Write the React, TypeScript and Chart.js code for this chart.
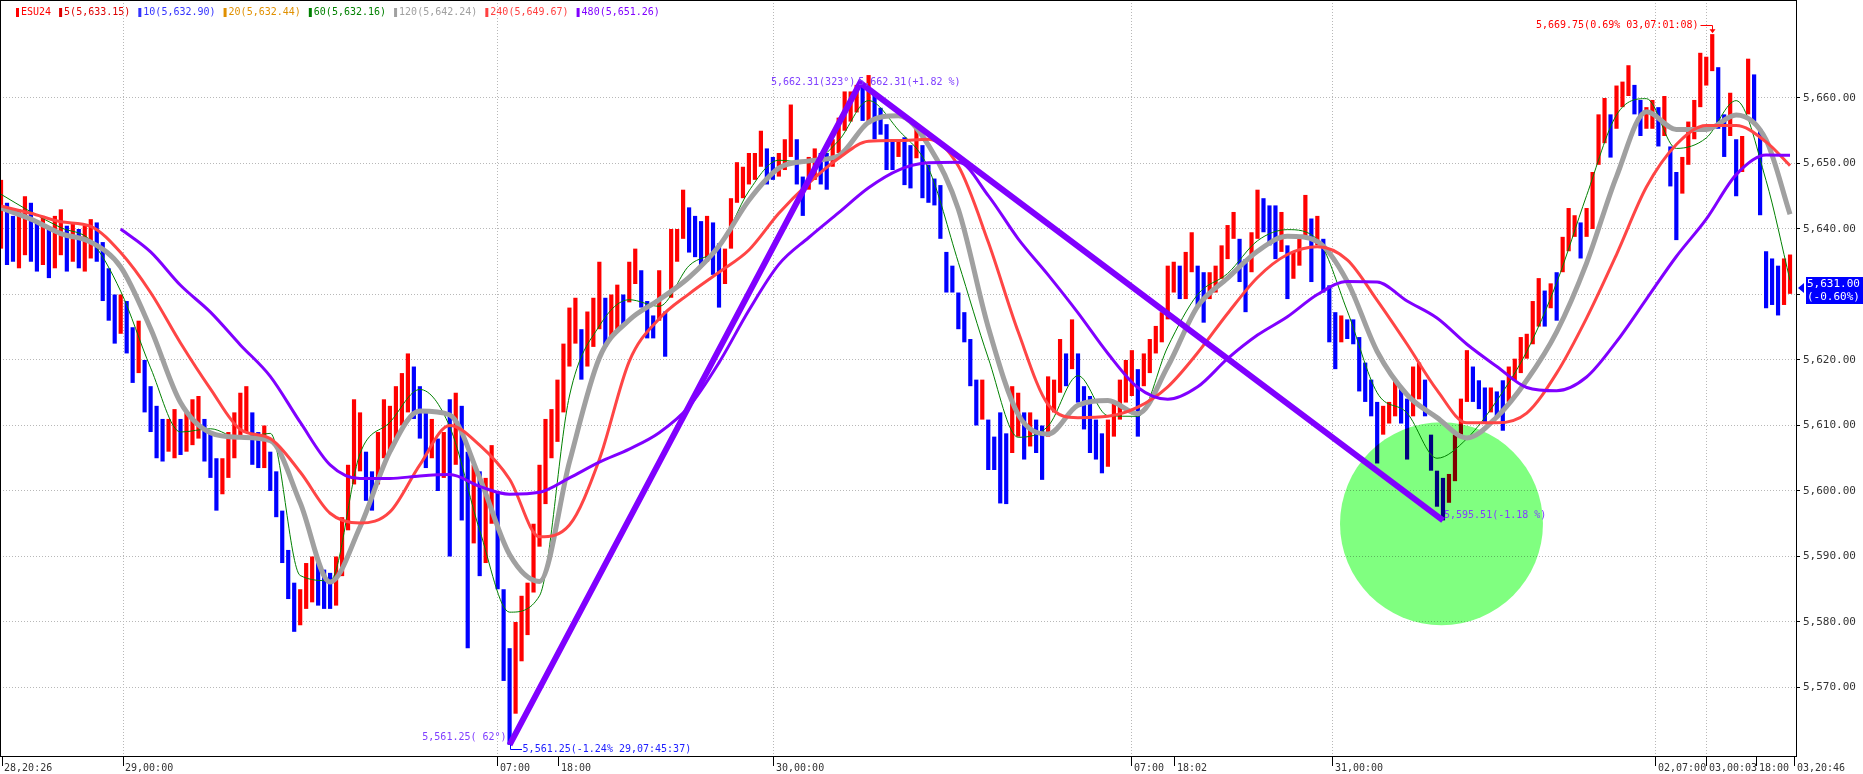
import React, { useEffect, useRef } from 'react';
import { Chart, registerables } from 'chart.js';
Chart.register(...registerables);

// ---------- data ----------
const highs = [
  5647.5, 5644, 5642, 5643, 5645, 5644, 5641, 5642, 5640, 5642,
  5643, 5640.5, 5641, 5640, 5640.5, 5641.5, 5641, 5638, 5634, 5630,
  5630, 5629, 5625, 5626, 5620, 5616, 5613, 5611, 5611, 5612.5,
  5611, 5612, 5614, 5614.5, 5611, 5609, 5605, 5605, 5609, 5612,
  5615, 5616, 5612, 5609, 5610, 5606, 5603, 5597, 5591, 5586,
  5585, 5589, 5590, 5589, 5588, 5587.5, 5590, 5596, 5604, 5614,
  5612, 5606, 5603, 5609, 5614, 5613, 5616, 5618, 5621, 5619,
  5616, 5612, 5611, 5608, 5609, 5614, 5615, 5613, 5606, 5604,
  5603, 5602, 5607, 5600, 5585, 5576, 5580, 5584, 5586, 5595,
  5604, 5611, 5612.5, 5617, 5622.5, 5628, 5629.5, 5624.7, 5627.4, 5629.5,
  5635, 5629.5, 5630, 5631.5, 5630, 5635, 5637, 5633.7, 5629, 5626.8,
  5633.7, 5627.4, 5640, 5640, 5646, 5643.3, 5642, 5641.2, 5642, 5641,
  5637.8, 5637, 5644.7, 5650.2, 5649.5, 5651.6, 5651.6, 5655, 5652.3, 5651,
  5651.6, 5653.7, 5659, 5653.7, 5648, 5651, 5652.3, 5651.6, 5651.6, 5653.7,
  5657, 5661, 5661, 5662, 5662.3, 5663.5, 5660.5, 5658.5, 5656, 5653.7,
  5653.7, 5654, 5652.8, 5655.4, 5652.8, 5649.8, 5647.7, 5646.7, 5636.5, 5634.4,
  5630.3, 5627.3, 5623.2, 5617, 5617, 5610.9, 5608.3, 5612, 5608.8, 5616,
  5615, 5612, 5612, 5610.9, 5610, 5617.5, 5617, 5623.2, 5621, 5626.2,
  5621, 5616, 5614.5, 5610.9, 5608.8, 5610.9, 5613.5, 5617, 5620, 5621.5,
  5618.6, 5621, 5623.2, 5625.2, 5627.3, 5634.4, 5635, 5634.4, 5636.5, 5639.5,
  5634.4, 5633.4, 5633.4, 5634.4, 5637.5, 5640.6, 5642.6, 5638.5, 5635.4, 5639.5,
  5646, 5644.7, 5643.6, 5643.6, 5642.6, 5637.5, 5636.5, 5638.5, 5645.2, 5641.6,
  5642, 5638.5, 5631.4, 5627.3, 5626.8, 5626.2, 5626.2, 5623.5, 5619.6, 5617,
  5613.6, 5613, 5613.6, 5617, 5615.8, 5614.1, 5619, 5619.6, 5617, 5608.6,
  5603.1, 5602, 5602.6, 5608.6, 5614.1, 5621.5, 5619, 5616.9, 5615.8, 5615.8,
  5615.2, 5616.9, 5619, 5620.2, 5623.5, 5624, 5629, 5632.5, 5630.6, 5631.7,
  5633.4, 5638.8, 5643.2, 5642.1, 5641, 5643.2, 5648.7, 5657.5, 5660, 5657.5,
  5661.9, 5662.5, 5665, 5662, 5659.7, 5658.6, 5659.7, 5658.6, 5660.3, 5652.6,
  5648.7, 5651, 5656.4, 5659.7, 5666.9, 5666.3, 5669.75, 5664.7, 5657.5, 5660.8,
  5653.7, 5654.2, 5666, 5663.6, 5655.3, 5636.6, 5635.5, 5634.4, 5635.5, 5636.1,
];

const lows = [
  5637, 5634.5, 5635, 5634, 5636, 5635, 5633.5, 5634.5, 5632.5, 5634,
  5636, 5633.5, 5635, 5634, 5633.5, 5635.5, 5635, 5629, 5626, 5622.5,
  5624, 5621, 5616.5, 5618, 5612, 5609, 5605, 5604.5, 5606, 5605,
  5605.5, 5606, 5607, 5608, 5604.5, 5602, 5597, 5599.5, 5602, 5605,
  5608, 5609, 5604, 5603.5, 5603.5, 5600, 5596, 5589, 5583.5, 5578.5,
  5579.5, 5582, 5583, 5582.5, 5582, 5582, 5582.5, 5587, 5594, 5601,
  5603, 5598.5, 5597, 5601, 5605, 5606, 5608, 5610, 5612, 5611,
  5608, 5603.5, 5605, 5600, 5602, 5590, 5604, 5595.5, 5576, 5592,
  5587, 5589, 5595, 5585, 5571, 5561.25, 5566, 5574, 5578, 5584.5,
  5591.5, 5598, 5605, 5607.5, 5612, 5619, 5622.5, 5617, 5619, 5622,
  5624.7, 5622, 5623.5, 5624.7, 5625.4, 5628.8, 5631.6, 5628, 5623.3, 5623.3,
  5626, 5620.5, 5629.5, 5635, 5638.5, 5636.4, 5635.7, 5634.3, 5635, 5633,
  5628, 5631.6, 5637, 5644, 5644.7, 5646.8, 5647.5, 5649.5, 5646.8, 5647.5,
  5648, 5649, 5651, 5646.8, 5642, 5646, 5647.5, 5646.8, 5646, 5649.5,
  5651.6, 5655, 5656.4, 5657.8, 5656.5, 5656, 5653.7, 5654.4, 5649, 5649,
  5651, 5646.7, 5646.2, 5650.8, 5644.7, 5644, 5643.6, 5638.5, 5630.3, 5630.3,
  5624.7, 5622.7, 5616, 5610, 5610.9, 5603.2, 5603.2, 5598.1, 5598, 5605.8,
  5608.3, 5604.8, 5606.8, 5605.8, 5601.7, 5608.3, 5612, 5615, 5616, 5618.6,
  5613.5, 5609.4, 5605.8, 5604.8, 5602.7, 5603.7, 5608.3, 5610.9, 5613.5, 5614.5,
  5608.3, 5616, 5618, 5621, 5622.7, 5626.2, 5630.3, 5629.3, 5629.3, 5633.4,
  5628.3, 5625.7, 5629.3, 5630.3, 5632.4, 5635.4, 5638.5, 5631.9, 5627.3, 5633.4,
  5638.5, 5639.5, 5637.5, 5635.4, 5636.5, 5629.3, 5632.4, 5634.4, 5638.5, 5631.9,
  5637.5, 5630.3, 5622.7, 5618.6, 5622.7, 5623.2, 5622.4, 5615.2, 5613.6, 5611.4,
  5604.2, 5608.6, 5610.3, 5611.4, 5610.3, 5604.8, 5611.4, 5614, 5611.4, 5603.1,
  5597.6, 5595.51, 5598.2, 5601.5, 5608.6, 5613.6, 5613.6, 5612.5, 5610.3, 5612,
  5611.4, 5609.2, 5613.6, 5616.9, 5618, 5620.2, 5622.4, 5625.1, 5625.1, 5627.9,
  5626, 5633.4, 5636.6, 5638.8, 5635.5, 5638.8, 5640, 5649.8, 5653.1, 5650.9,
  5655.3, 5658.6, 5660.3, 5657.5, 5654.2, 5655.3, 5655.3, 5652.6, 5654.2, 5646.5,
  5638.3, 5645.4, 5649.8, 5653.7, 5658.6, 5661.9, 5664.1, 5655.3, 5651, 5654.2,
  5645, 5648.7, 5657.5, 5656.4, 5642.1, 5627.9, 5628.4, 5626.8, 5628.4, 5630.1,
];

// moving averages, sampled at these bar indices
const maX = [
  0, 5, 10, 15, 20, 25, 30, 35, 40, 45, 50, 55, 60, 65, 70, 75, 80, 85, 90, 95,
  100, 105, 110, 115, 120, 125, 130, 135, 140, 145, 150, 155, 160, 165, 170, 175, 180, 185, 190, 195,
  200, 205, 210, 215, 220, 225, 230, 235, 240, 245, 250, 255, 260, 265, 270, 275, 280, 285, 290, 295, 299,
];
const ma60 = [
  5645.3, 5642.6, 5640.2, 5638.2, 5630.5, 5618.8, 5609, 5609.5, 5608, 5608.8,
  5587.1, 5586.3, 5605.7, 5610.5, 5615.5, 5609.8, 5594, 5581.5, 5584, 5614.5,
  5625.2, 5629.2, 5628.2, 5634.4, 5637.2, 5645.8, 5650.5, 5650.1, 5653.5, 5659.6,
  5655.1, 5649.3, 5634.9, 5620.3, 5608.2, 5609.9, 5617.6, 5611.5, 5611.4, 5622,
  5630, 5633.2, 5638.2, 5639.9, 5638.4, 5627.5, 5615, 5611.9, 5605, 5608,
  5613.8, 5621.3, 5631.8, 5645.1, 5657.4, 5659.9, 5652.3, 5653.9, 5659.6, 5647.4, 5632.16,
];
const ma120 = [
  5643.2, 5641.5, 5639.3, 5638, 5634.2, 5624.8, 5613.5, 5608.9, 5608.2, 5607.7,
  5598.2, 5586.1, 5594.5, 5606, 5612.2, 5611.6, 5602, 5590.3, 5586.2, 5604.4,
  5620.3, 5626.1, 5629.2, 5632.6, 5637.4, 5644.4, 5649.3, 5650.4, 5651.2, 5656.3,
  5657.3, 5652.8, 5643, 5625, 5611.7, 5608.7, 5613.1, 5613.8, 5611.8, 5619,
  5628.2, 5632.5, 5636.6, 5638.9, 5638.1, 5632, 5621.3, 5614.7, 5611.2, 5608.1,
  5611.3, 5616.9, 5624.3, 5634.8, 5648, 5657.9, 5655.2, 5655.2, 5657.4, 5653.6, 5642.24,
];
const ma240 = [
  5643.5, 5642.4, 5641.1, 5640.4, 5636.4, 5630.3, 5622.6, 5615.6, 5609.4, 5608,
  5602.9, 5596.6, 5595.1, 5596.8, 5604, 5610, 5607, 5601.8, 5593, 5594.8,
  5604.8, 5619.8, 5626.3, 5630.1, 5633.4, 5636.8, 5642.4, 5647, 5650.8, 5653.4,
  5653.5, 5653.7, 5649.6, 5638, 5624.3, 5613.2, 5611.2, 5611.4, 5612.8, 5615.9,
  5621.1, 5627.1, 5632.6, 5636.1, 5637.3, 5635.3, 5629.1, 5622.4, 5615.4, 5610.4,
  5610.4, 5611.9, 5618, 5626.4, 5636.1, 5646.4, 5652.9, 5655.8, 5655.8, 5653.3, 5649.67,
];
const ma480 = [
  null, null, null, null, 5640, 5636.5, 5631.4, 5627.3, 5622.3, 5617.5,
  5610.5, 5604, 5601.9, 5601.9, 5602.3, 5602.5, 5600.7, 5599.5, 5599.8, 5602,
  5604.4, 5606.4, 5608.9, 5612.9, 5619.6, 5627.6, 5634.6, 5638.7, 5642.5, 5646.3,
  5649, 5650.1, 5650.2, 5645.1, 5638.5, 5633, 5627.2, 5621, 5615.8, 5614,
  5615.9, 5620.2, 5623.8, 5626.6, 5630, 5632, 5631.9, 5629, 5626.4, 5622.4,
  5619, 5615.8, 5615.3, 5617.4, 5622.8, 5629.3, 5635.8, 5641.5, 5648.3, 5651.3, 5651.26,
];

// trend line (bar index, price)
const trendX = [85, 143.6, 241];
const trendY = [5561.25, 5662.31, 5595.51];

// x axis ticks (bar index) and labels
const xTickPos = [0.17, 20.39, 83.06, 93.25, 129.19, 189.02, 196.21, 222.61, 276.6, 285.12, 293.47, 299.82];
const xTickLabels = ['28,20:26', '29,00:00', '07:00', '18:00', '30,00:00', '07:00', '18:02', '31,00:00', '02,07:00', '03,00:03', '18:00', '03,20:46'];
const xTickMajor = [false, true, true, false, true, true, false, true, true, true, false, false];

const yTicks = [5570, 5580, 5590, 5600, 5610, 5620, 5630, 5640, 5650, 5660];

const legendLabels = ['ESU24', '5(5,633.15)', '10(5,632.90)', '20(5,632.44)', '60(5,632.16)', '120(5,642.24)', '240(5,649.67)', '480(5,651.26)'];
const legendColors = ['#ff0000', '#dd0000', '#3333ff', '#e09000', '#008000', '#a0a0a0', '#ff4040', '#8000ff'];

const lastPrice = 5631.0;
const lastPriceLabel = '5,631.00';
const lastPctLabel = '(-0.60%)';
const highBar = 286;
const highPrice = 5669.75;

// ---------- helpers ----------
const FONT = '"DejaVu Sans Mono", "Liberation Mono", monospace';
const fmt = (v: number) => v.toLocaleString('en-US', { minimumFractionDigits: 2, maximumFractionDigits: 2 });

const candleColors = highs.map((h, i) => {
  const m = (h + lows[i]) / 2;
  const pm = i ? (highs[i - 1] + lows[i - 1]) / 2 : m;
  return m >= pm ? '#ff0000' : '#0000ff';
});

const maData = (arr: (number | null)[]) =>
  maX.map((x, k) => ({ x, y: arr[k] })).filter((p) => p.y !== null);

const annotPlugin = {
  id: 'annot',
  afterDatasetDraw(chart: any, args: any) {
    if (args.index !== 0) return;
    const { ctx, chartArea: ca, scales } = chart;
    const x = scales.x, y = scales.y;
    ctx.save();
    ctx.beginPath();
    ctx.rect(ca.left, ca.top, ca.right - ca.left, ca.bottom - ca.top);
    ctx.clip();
    ctx.globalCompositeOperation = 'multiply';
    ctx.fillStyle = '#80ff80';
    const cx = x.getPixelForValue(240.75);
    const cy = y.getPixelForValue(5595.0);
    const r = x.getPixelForValue(240.75 + 16.96) - cx;
    ctx.beginPath();
    ctx.arc(cx, cy, r, 0, Math.PI * 2);
    ctx.fill();
    ctx.restore();
  },
  afterDraw(chart: any) {
    const { ctx, chartArea: ca, scales } = chart;
    const x = scales.x, y = scales.y;
    ctx.save();
    // frame
    ctx.strokeStyle = '#000';
    ctx.lineWidth = 1;
    ctx.strokeRect(ca.left + 0.5, ca.top + 0.5, ca.right - ca.left, ca.bottom - ca.top);

    // legend
    ctx.font = `10px ${FONT}`;
    ctx.textBaseline = 'middle';
    ctx.textAlign = 'left';
    let lx = 16;
    legendLabels.forEach((t, k) => {
      ctx.fillStyle = legendColors[k];
      ctx.fillRect(lx, 8, 3, 9);
      ctx.fillText(t, lx + 5, 12.5);
      lx += 5 + ctx.measureText(t).width + 8;
    });

    // peak labels
    const px = x.getPixelForValue(trendX[1]);
    const py = y.getPixelForValue(trendY[1]);
    ctx.fillStyle = '#8040ff';
    ctx.textAlign = 'right';
    ctx.fillText('5,662.31(323°)', px - 5, py);
    ctx.textAlign = 'left';
    ctx.fillText('5,662.31(+1.82 %)', px - 2, py);

    // low labels
    const lx0 = x.getPixelForValue(trendX[0]);
    const ly0 = y.getPixelForValue(trendY[0]);
    ctx.textAlign = 'right';
    ctx.fillText('5,561.25( 62°)', lx0 - 3, ly0 - 7);
    ctx.strokeStyle = '#0000ff';
    ctx.beginPath();
    ctx.moveTo(Math.round(lx0) + 0.5, ly0);
    ctx.lineTo(Math.round(lx0) + 0.5, Math.round(ly0 + 4.5) + 0.5);
    ctx.lineTo(Math.round(lx0) + 12, Math.round(ly0 + 4.5) + 0.5);
    ctx.stroke();
    ctx.fillStyle = '#2020ff';
    ctx.textAlign = 'left';
    ctx.fillText('5,561.25(-1.24% 29,07:45:37)', lx0 + 13, ly0 + 4.5);

    // trough label
    const tx = x.getPixelForValue(trendX[2]);
    const ty = y.getPixelForValue(trendY[2]);
    ctx.fillStyle = '#8040ff';
    ctx.fillText('5,595.51(-1.18 %)', tx + 1, ty - 5);

    // high label
    const hx = Math.round(x.getPixelForValue(highBar)) + 0.5;
    const hy = y.getPixelForValue(highPrice);
    const hty = Math.round(hy - 9) + 0.5;
    ctx.fillStyle = '#ff0000';
    ctx.strokeStyle = '#ff0000';
    ctx.textAlign = 'right';
    ctx.fillText('5,669.75(0.69% 03,07:01:08)', hx - 14, hty);
    ctx.beginPath();
    ctx.moveTo(hx - 12, hty);
    ctx.lineTo(hx, hty);
    ctx.lineTo(hx, hy - 3);
    ctx.stroke();
    ctx.beginPath();
    ctx.moveTo(hx - 3, hy - 5);
    ctx.lineTo(hx + 3, hy - 5);
    ctx.lineTo(hx, hy - 1);
    ctx.closePath();
    ctx.fill();

    // last price marker
    const lpy = y.getPixelForValue(lastPrice);
    ctx.fillStyle = '#0000ff';
    ctx.beginPath();
    ctx.moveTo(ca.right + 2, lpy);
    ctx.lineTo(ca.right + 8, lpy - 5);
    ctx.lineTo(ca.right + 8, lpy + 5);
    ctx.closePath();
    ctx.fill();
    ctx.fillRect(ca.right + 10, Math.round(lpy - 11), 57, 27);
    ctx.fillStyle = '#ffffff';
    ctx.font = `11px ${FONT}`;
    ctx.textAlign = 'left';
    ctx.fillText(lastPriceLabel, ca.right + 11, lpy - 4);
    ctx.fillText(lastPctLabel, ca.right + 11, lpy + 9);
    ctx.restore();
  },
};

export default function App() {
  const ref = useRef<HTMLCanvasElement>(null);
  useEffect(() => {
    const chart = new Chart(ref.current as HTMLCanvasElement, {
      type: 'bar',
      data: {
        datasets: [
          {
            type: 'bar',
            data: highs.map((h, i) => ({ x: i, y: [lows[i], h] })) as any,
            backgroundColor: candleColors,
            borderWidth: 0,
            barPercentage: 0.7,
            categoryPercentage: 1,
            order: 10,
          } as any,
          { type: 'line', data: maData(ma60) as any, borderColor: '#008000', borderWidth: 1, pointRadius: 0, cubicInterpolationMode: 'monotone', order: 5 } as any,
          { type: 'line', data: maData(ma120) as any, borderColor: '#a0a0a0', borderWidth: 5, pointRadius: 0, cubicInterpolationMode: 'monotone', order: 4 } as any,
          { type: 'line', data: maData(ma240) as any, borderColor: '#ff4545', borderWidth: 3, pointRadius: 0, cubicInterpolationMode: 'monotone', order: 3 } as any,
          { type: 'line', data: maData(ma480) as any, borderColor: '#8000ff', borderWidth: 3, pointRadius: 0, cubicInterpolationMode: 'monotone', order: 2 } as any,
          { type: 'line', data: trendX.map((x, k) => ({ x, y: trendY[k] })) as any, borderColor: '#8000ff', borderWidth: 6, pointRadius: 0, tension: 0, order: 0 } as any,
        ],
      },
      options: {
        animation: false,
        responsive: false,
        devicePixelRatio: 1,
        events: [],
        layout: { padding: 0 },
        plugins: { legend: { display: false }, tooltip: { enabled: false } },
        scales: {
          x: {
            type: 'linear',
            min: -0.17,
            max: 300.0,
            offset: false,
            afterBuildTicks: (s: any) => { s.ticks = xTickPos.map((v) => ({ value: v })); },
            afterFit: (s: any) => { s.height = 18; s.paddingLeft = 0; s.paddingRight = 0; },
            ticks: {
              autoSkip: false,
              maxRotation: 0,
              minRotation: 0,
              align: 'start',
              labelOffset: 2,
              padding: -4,
              color: '#333333',
              font: { family: FONT, size: 10 },
              callback: (_v: any, i: number) => xTickLabels[i],
            },
            grid: {
              offset: false,
              color: (c: any) => (xTickMajor[c.index] ? '#b8b8b8' : 'rgba(0,0,0,0)'),
              tickColor: '#000',
              tickLength: 10,
              lineWidth: 1,
            },
            border: { display: false, dash: [1, 2] },
          } as any,
          y: {
            type: 'linear',
            position: 'right',
            min: 5559.54,
            max: 5674.96,
            afterBuildTicks: (s: any) => { s.ticks = yTicks.map((v) => ({ value: v })); },
            afterFit: (s: any) => { s.width = 67; s.paddingTop = 0; s.paddingBottom = 0; },
            ticks: {
              padding: 3,
              color: '#333333',
              font: { family: FONT, size: 11 },
              callback: (v: any) => (v === 5630 ? '' : fmt(v)),
            },
            grid: { color: '#b8b8b8', tickColor: '#000', tickLength: 4, lineWidth: 1 },
            border: { display: false, dash: [1, 2] },
          } as any,
        },
      },
      plugins: [annotPlugin as any],
    });
    return () => chart.destroy();
  }, []);
  return (
    <div style={{ position: 'absolute', left: 0, top: 0, width: 1863, height: 774, background: '#ffffff' }}>
      <canvas ref={ref} width={1863} height={774} style={{ display: 'block', width: 1863, height: 774 }} />
    </div>
  );
}
